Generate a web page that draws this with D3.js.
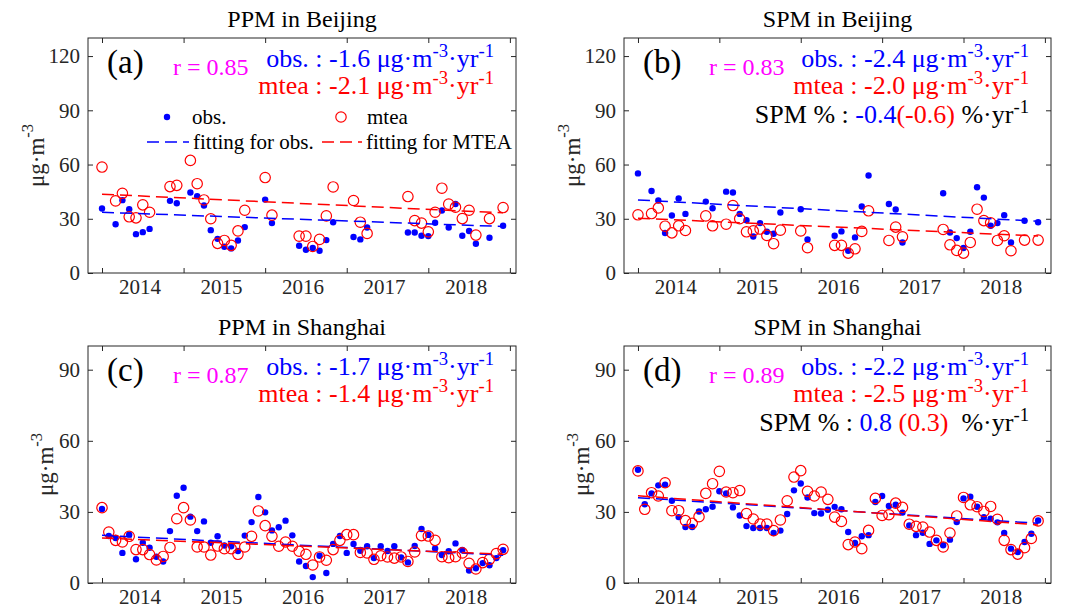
<!DOCTYPE html>
<html><head><meta charset="utf-8">
<script src="https://cdn.jsdelivr.net/npm/d3@7"></script>
<style>
body{margin:0;background:#fff}
text{font-family:"Liberation Serif","Times New Roman",serif}
</style>
</head><body>
<svg id="chart" width="1071" height="612"></svg>
<script>
// ---------- data ----------
const yearLabels = ["2014","2015","2016","2017","2018"];
const nMonths = 60;
const yearTickMonths = [0,12,24,36,48,60];
const yearLabelMonths = [5.5,17.5,29.5,41.5,53.5];

const ppmBjObs = [35.7,null,27.0,40.3,35.3,21.5,22.6,24.4,null,null,39.9,38.6,null,44.5,42.5,37.3,23.7,18.9,14.5,13.6,18.0,25.4,null,null,40.6,27.6,null,null,null,15.1,12.9,13.8,12.3,18.2,28.1,null,null,19.9,18.6,25.2,null,null,null,null,null,22.4,22.4,20.6,20.4,27.8,34.6,25.2,38.2,20.6,23.2,16.2,null,19.5,null,26.1];
const ppmBjMtea = [58.6,null,39.9,44.1,31.1,30.5,37.7,33.6,null,null,47.8,48.5,null,62.3,49.4,40.4,30.0,16.4,18.0,15.3,23.3,34.7,null,null,52.8,32.0,null,null,null,20.4,20.4,14.7,18.6,31.6,47.6,null,null,40.1,28.1,21.9,null,null,null,null,null,42.3,29.0,27.6,22.8,33.6,46.9,38.1,36.4,30.1,34.7,21.0,null,30.1,null,36.2];

const spmBjObs = [55.1,null,45.4,40.1,22.1,31.8,41.2,32.7,null,null,39.5,35.8,null,45.0,44.5,32.7,29.2,20.2,27.6,22.8,21.7,33.5,null,null,35.3,18.6,null,null,null,20.6,23.0,12.3,19.7,36.8,53.9,null,null,38.2,35.1,16.9,null,null,null,null,null,44.1,22.4,19.3,13.8,22.8,47.4,41.7,26.1,27.6,32.0,16.9,null,28.9,null,28.1];
const spmBjMtea = [32.2,null,32.9,36.0,25.9,22.2,26.1,23.5,null,null,31.6,26.1,null,27.0,37.3,30.0,22.8,23.3,24.3,20.8,16.2,23.7,null,null,23.3,14.0,null,null,null,15.3,15.3,11.0,13.4,23.0,34.4,null,null,18.0,25.4,20.0,null,null,null,null,null,24.1,15.6,12.5,11.0,16.9,35.3,29.0,27.8,18.0,20.6,12.3,null,18.2,null,18.2];

const ppmShObs = [31.2,19.8,19.0,12.7,20.4,10.0,17.0,14.9,11.1,9.1,21.9,36.8,40.2,28.0,21.9,26.0,17.0,19.7,15.8,15.5,13.5,20.0,25.7,36.3,29.8,22.2,23.5,26.3,20.1,9.1,7.2,2.5,11.5,4.2,16.5,19.8,12.7,16.5,13.6,15.5,10.5,15.5,13.5,15.5,10.8,8.7,15.6,22.8,20.3,14.6,11.8,13.4,16.7,13.9,5.3,6.2,8.4,7.5,10.5,13.8];
const ppmShMtea = [31.8,21.5,18.0,17.3,19.7,14.1,14.1,12.0,9.7,11.2,15.0,27.1,31.8,26.6,15.2,15.2,11.8,15.6,14.5,14.5,12.1,15.2,19.7,30.4,24.2,19.7,15.5,17.3,15.5,13.4,12.1,7.6,11.0,9.6,14.1,18.0,20.4,20.4,12.9,12.7,10.0,11.5,11.0,10.5,11.0,9.1,13.1,20.0,19.8,18.0,11.1,10.7,11.1,12.7,8.3,5.9,8.6,10.0,12.4,14.2];

const spmShObs = [47.8,33.2,37.8,41.2,41.5,34.7,27.8,23.6,23.6,30.2,31.1,32.2,38.7,37.8,31.9,28.5,24.0,23.2,23.2,23.2,21.1,22.1,29.1,39.1,42.0,36.1,29.5,29.3,30.9,32.1,31.1,21.5,16.9,19.7,20.2,34.2,36.7,32.5,33.0,29.7,24.3,20.2,21.2,16.5,18.0,15.9,18.3,25.7,35.7,36.4,32.2,27.8,27.1,25.6,21.1,14.5,13.1,17.3,20.8,26.4];
const spmShMtea = [47.3,31.1,38.1,36.7,42.3,30.5,30.5,26.3,25.2,28.0,37.8,41.9,47.1,38.4,38.1,39.0,29.3,27.0,24.9,24.9,22.1,26.6,34.7,44.7,47.4,38.7,36.7,38.4,35.3,27.8,26.0,16.2,17.3,14.5,22.2,35.7,28.5,28.8,33.7,31.9,24.8,23.9,23.6,21.5,18.0,15.2,21.1,28.3,36.1,33.0,32.2,30.2,32.3,26.9,18.0,14.1,12.2,14.9,18.8,26.2];

// fitted trend lines: value at first month and slope (per year)
const fitObsStart  = [33.6, 40.4, 20.1, 36.0];
const fitObsSlope  = [-1.6, -2.4, -1.7, -2.2];
const fitMteaStart = [43.6, 30.3, 19.0, 36.8];
const fitMteaSlope = [-2.1, -2.0, -1.4, -2.5];
const rValues = ["0.85","0.83","0.87","0.89"];
const spmPctObs  = [null, "-0.4", null, "0.8"];
const spmPctMtea = [null, "(-0.6)", null, "(0.3)"];
const panelLetters = ["(a)","(b)","(c)","(d)"];
const panelTitles = ["PPM in Beijing","SPM in Beijing","PPM in Shanghai","SPM in Shanghai"];
const yTicksBj = [0,30,60,90,120];
const yTicksSh = [0,30,60,90];

// ---------- layout ----------
const BLUE="#0000ff", RED="#ff0000", MAG="#ff00ff", AX="#262626";
const panels = [
  {obs:ppmBjObs, mtea:ppmBjMtea, yMax:130, yTicks:yTicksBj, L:88,  T:38,  R:516,  B:273, legend:true, ylabOff:44},
  {obs:spmBjObs, mtea:spmBjMtea, yMax:130, yTicks:yTicksBj, L:624, T:38,  R:1051, B:273, legend:false, ylabOff:44},
  {obs:ppmShObs, mtea:ppmShMtea, yMax:100, yTicks:yTicksSh, L:88,  T:346, R:516,  B:583, legend:false, ylabOff:35},
  {obs:spmShObs, mtea:spmShMtea, yMax:100, yTicks:yTicksSh, L:624, T:346, R:1051, B:583, legend:false, ylabOff:35}
];

const svg = d3.select("#chart");
svg.append("rect").attr("width",1071).attr("height",612).attr("fill","#fff");

function unitText(sel, parts, raise){
  let prevSup=false;
  parts.forEach(p=>{
    const t = sel.append("tspan").text(p[0]).attr("fill",p[1]);
    if(p[2]){ t.attr("font-size","0.72em").attr("dy",-raise); prevSup=true; }
    else if(prevSup){ t.attr("dy",raise); prevSup=false; }
  });
}

panels.forEach((p,i)=>{
  const g = svg.append("g");
  const x = d3.scaleLinear().domain([-2.06,60.9]).range([p.L,p.R]);
  const y = d3.scaleLinear().domain([0,p.yMax]).range([p.B,p.T]);

  const yl = g.append("g").attr("transform",`translate(${p.L},0)`)
    .call(d3.axisLeft(y).tickValues(p.yTicks).tickSize(-5).tickPadding(8).tickSizeOuter(0));
  const yr = g.append("g").attr("transform",`translate(${p.R},0)`)
    .call(d3.axisRight(y).tickValues(p.yTicks).tickSize(-5).tickFormat("").tickSizeOuter(0));
  const xb = g.append("g").attr("transform",`translate(0,${p.B})`)
    .call(d3.axisBottom(x).tickValues(yearTickMonths).tickSize(-5).tickFormat("").tickSizeOuter(0));
  const xt = g.append("g").attr("transform",`translate(0,${p.T})`)
    .call(d3.axisTop(x).tickValues(yearTickMonths).tickSize(-5).tickFormat("").tickSizeOuter(0));
  const xl = g.append("g").attr("transform",`translate(0,${p.B})`)
    .call(d3.axisBottom(x).tickValues(yearLabelMonths).tickSize(0).tickPadding(6)
      .tickFormat((d,k)=>yearLabels[k]).tickSizeOuter(0));
  [yl,yr,xb,xt,xl].forEach(a=>{
    a.select(".domain").remove();
    a.selectAll("line").attr("stroke",AX);
    a.selectAll("text").attr("fill",AX).attr("font-size",21)
      .attr("font-family",'"Liberation Serif","Times New Roman",serif');
  });
  g.append("rect").attr("x",p.L).attr("y",p.T).attr("width",p.R-p.L).attr("height",p.B-p.T)
    .attr("fill","none").attr("stroke",AX).attr("stroke-width",1);

  g.append("text").attr("x",(p.L+p.R)/2).attr("y",p.T-11).attr("text-anchor","middle")
    .attr("font-size",24).attr("fill","#000").text(panelTitles[i]);

  const yt = g.append("text")
    .attr("transform",`translate(${p.L-p.ylabOff},${(p.T+p.B)/2}) rotate(-90)`)
    .attr("text-anchor","middle").attr("font-size",23).attr("fill",AX);
  unitText(yt, [["μg·m",AX,false],["-3",AX,true]], 11);

  const obsPts = p.obs.map((v,m)=>({m,v})).filter(d=>d.v!==null);
  const mteaPts = p.mtea.map((v,m)=>({m,v})).filter(d=>d.v!==null);
  g.append("g").selectAll("circle").data(obsPts).join("circle")
    .attr("cx",d=>x(d.m)).attr("cy",d=>y(d.v)).attr("r",3.2).attr("fill",BLUE);
  g.append("g").selectAll("circle").data(mteaPts).join("circle")
    .attr("cx",d=>x(d.m)).attr("cy",d=>y(d.v)).attr("r",5.2).attr("fill","none")
    .attr("stroke",RED).attr("stroke-width",1.2);

  const span = (nMonths-1)/12;
  const line = d3.line().x(d=>x(d[0])).y(d=>y(d[1]));
  g.append("path").datum([[0,fitObsStart[i]],[nMonths-1,fitObsStart[i]+fitObsSlope[i]*span]])
    .attr("d",line).attr("fill","none").attr("stroke",BLUE).attr("stroke-width",1.5).attr("stroke-dasharray","12,6");
  g.append("path").datum([[0,fitMteaStart[i]],[nMonths-1,fitMteaStart[i]+fitMteaSlope[i]*span]])
    .attr("d",line).attr("fill","none").attr("stroke",RED).attr("stroke-width",1.5).attr("stroke-dasharray","12,6");

  g.append("text").attr("x",p.L+19).attr("y",p.T+35).attr("font-size",33).attr("fill","#000").text(panelLetters[i]);
  g.append("text").attr("x",p.L+85).attr("y",p.T+37).attr("font-size",24).attr("fill",MAG).text("r = "+rValues[i]);
  const tx = p.R-22;
  const l1 = g.append("text").attr("x",tx).attr("y",p.T+29).attr("text-anchor","end").attr("font-size",26);
  unitText(l1, [["obs. : "+fitObsSlope[i].toFixed(1)+" μg·m",BLUE,false],["-3",BLUE,true],["·yr",BLUE,false],["-1",BLUE,true]], 10);
  const l2 = g.append("text").attr("x",tx).attr("y",p.T+56).attr("text-anchor","end").attr("font-size",26);
  unitText(l2, [["mtea : "+fitMteaSlope[i].toFixed(1)+" μg·m",RED,false],["-3",RED,true],["·yr",RED,false],["-1",RED,true]], 10);
  if(spmPctObs[i]!==null){
    const l3 = g.append("text").attr("x",tx).attr("y",p.T+85).attr("text-anchor","end").attr("font-size",26);
    const sepA = i===3 ? "\u00a0" : "";
    const sepB = i===3 ? "\u00a0\u00a0" : "\u00a0";
    unitText(l3, [["SPM % : ","#000",false],[spmPctObs[i]+sepA,BLUE,false],[spmPctMtea[i],RED,false],[sepB+"%·yr","#000",false],["-1","#000",true]], 10);
  }

  if(p.legend){
    const lg = g.append("g").attr("font-size",21).attr("fill","#000");
    lg.append("circle").attr("cx",167).attr("cy",117).attr("r",3.2).attr("fill",BLUE);
    lg.append("text").attr("x",192).attr("y",124).text("obs.");
    lg.append("circle").attr("cx",341).attr("cy",117).attr("r",5.2).attr("fill","none").attr("stroke",RED).attr("stroke-width",1.2);
    lg.append("text").attr("x",367).attr("y",124).text("mtea");
    lg.append("line").attr("x1",147).attr("x2",189).attr("y1",142).attr("y2",142)
      .attr("stroke",BLUE).attr("stroke-width",1.5).attr("stroke-dasharray","12,6");
    lg.append("text").attr("x",193).attr("y",149).text("fitting for obs.");
    lg.append("line").attr("x1",322).attr("x2",362).attr("y1",142).attr("y2",142)
      .attr("stroke",RED).attr("stroke-width",1.5).attr("stroke-dasharray","12,6");
    lg.append("text").attr("x",366).attr("y",149).text("fitting for MTEA");
  }
});
</script>
</body></html>
